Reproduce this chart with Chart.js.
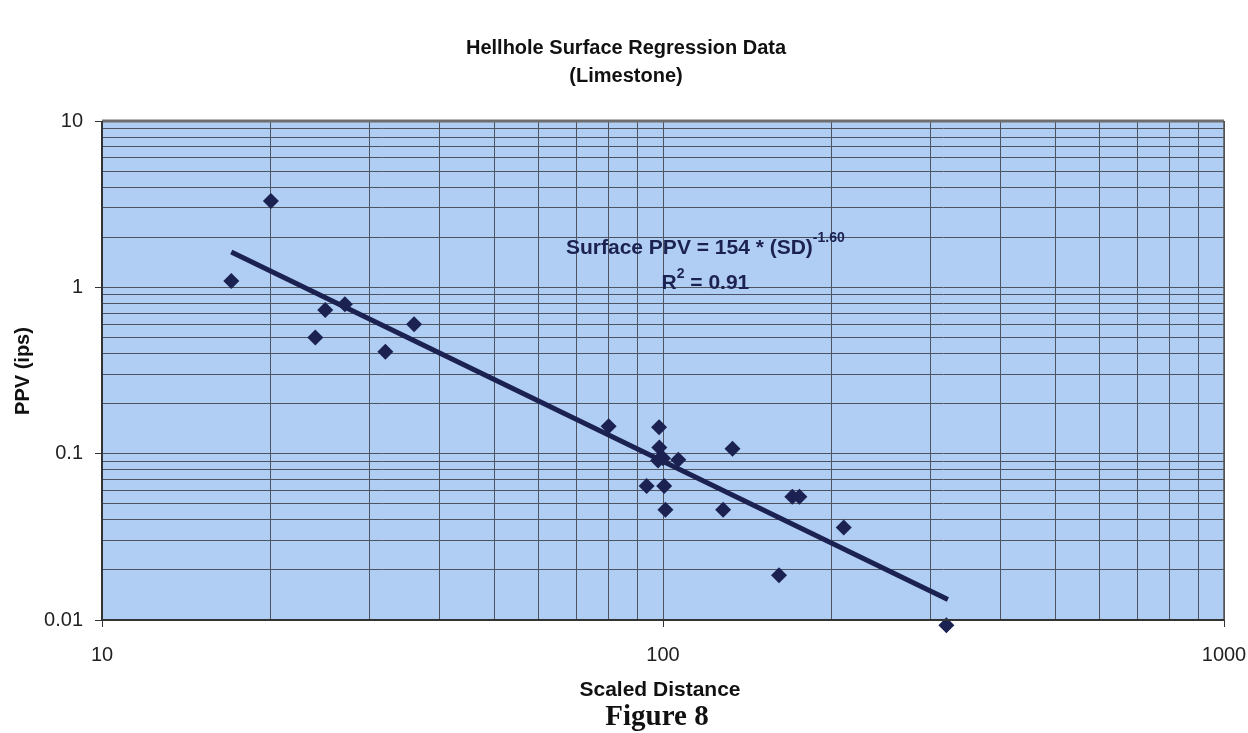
<!DOCTYPE html>
<html>
<head>
<meta charset="utf-8">
<script src="https://cdn.jsdelivr.net/npm/chart.js@4"></script>
<style>
  html, body { margin: 0; padding: 0; background: #fff; }
  #wrap { width: 1248px; height: 733px; }
</style>
</head>
<body>
<div id="wrap"><canvas id="c" width="1248" height="733"></canvas></div>
<script>
// 측정값 (Scaled Distance, PPV)
const SD_VALUES = [17, 20, 25, 27.1, 24, 32, 36, 80, 98.4, 98.5, 98, 100, 106.5, 133, 93.5, 100.5, 101, 128, 170, 175, 210, 161, 320];
const PPV_VALUES = [1.09, 3.3, 0.73, 0.79, 0.5, 0.41, 0.6, 0.146, 0.144, 0.109, 0.091, 0.094, 0.092, 0.107, 0.064, 0.064, 0.046, 0.046, 0.055, 0.055, 0.036, 0.0186, 0.0093];
// 회귀선 양 끝점
const FIT_SD = [17, 322];
const FIT_PPV = [1.63, 0.0133];
// 축 눈금
const X_TICKS = [10, 20, 30, 40, 50, 60, 70, 80, 90, 100, 200, 300, 400, 500, 600, 700, 800, 900, 1000];
const Y_TICKS = [0.01, 0.02, 0.03, 0.04, 0.05, 0.06, 0.07, 0.08, 0.09, 0.1, 0.2, 0.3, 0.4, 0.5, 0.6, 0.7, 0.8, 0.9,
  1, 2, 3, 4, 5, 6, 7, 8, 9, 10];
const X_LABELS = [10, 100, 1000];
const Y_LABELS = [0.01, 0.1, 1, 10];

const NAVY = '#1b2150';
const GRID = '#4d5361';
const SANS = '"Liberation Sans", Arial, sans-serif';
const isMajor = (v, list) => list.some((m) => Math.abs(m - v) / m < 1e-6);

// 배경 + 제목 + 회귀식 텍스트
const decor = {
  id: 'decor',
  beforeDraw(chart) {
    const { ctx, chartArea: a } = chart;
    ctx.save();
    ctx.fillStyle = '#b0cdf3';
    ctx.fillRect(a.left, a.top, a.right - a.left, a.bottom - a.top);
    ctx.restore();
  },
  afterDatasetsDraw(chart) {
    const { ctx, chartArea: a, scales } = chart;
    ctx.save();
    // 테두리
    ctx.strokeStyle = '#6e6e6e';
    ctx.lineWidth = 3;
    ctx.beginPath(); ctx.moveTo(a.left, a.top); ctx.lineTo(a.right, a.top); ctx.stroke();
    ctx.strokeStyle = '#555';
    ctx.lineWidth = 1.5;
    ctx.beginPath(); ctx.moveTo(a.right, a.top); ctx.lineTo(a.right, a.bottom); ctx.stroke();
    ctx.strokeStyle = '#333';
    ctx.lineWidth = 2;
    ctx.beginPath(); ctx.moveTo(a.left, a.top); ctx.lineTo(a.left, a.bottom); ctx.lineTo(a.right, a.bottom); ctx.stroke();

    ctx.fillStyle = '#111';
    ctx.textAlign = 'center';
    ctx.textBaseline = 'middle';
    ctx.font = `bold 20px ${SANS}`;
    ctx.fillText('Hellhole Surface Regression Data', 626, 48);
    ctx.fillText('(Limestone)', 626, 76);
    ctx.font = `bold 21px ${SANS}`;
    ctx.fillText('Scaled Distance', 660, 690);
    ctx.save();
    ctx.translate(23, 371);
    ctx.rotate(-Math.PI / 2);
    ctx.font = `bold 20px ${SANS}`;
    ctx.fillText('PPV (ips)', 0, 0);
    ctx.restore();
    ctx.font = 'bold 29px "Liberation Serif", "Times New Roman", serif';
    ctx.fillText('Figure 8', 657, 718);

    // 회귀식
    const cx = scales.x.getPixelForValue(119);
    const y1 = scales.y.getPixelForValue(1.72);
    const y2 = scales.y.getPixelForValue(1.06);
    ctx.fillStyle = NAVY;
    const main = 'Surface PPV = 154 * (SD)';
    ctx.font = `bold 14px ${SANS}`;
    const supW = ctx.measureText('-1.60').width;
    ctx.font = `bold 21px ${SANS}`;
    const mainW = ctx.measureText(main).width;
    const start = cx - (mainW + supW) / 2;
    ctx.textAlign = 'left';
    ctx.fillText(main, start, y1);
    ctx.font = `bold 14px ${SANS}`;
    ctx.fillText('-1.60', start + mainW, y1 - 10);

    ctx.font = `bold 21px ${SANS}`;
    const rW = ctx.measureText('R').width;
    const restW = ctx.measureText(' = 0.91').width;
    ctx.font = `bold 14px ${SANS}`;
    const twoW = ctx.measureText('2').width;
    const s2 = cx - (rW + twoW + restW) / 2;
    ctx.font = `bold 21px ${SANS}`;
    ctx.fillText('R', s2, y2);
    ctx.fillText(' = 0.91', s2 + rW + twoW, y2);
    ctx.font = `bold 14px ${SANS}`;
    ctx.fillText('2', s2 + rW, y2 - 9);
    ctx.restore();
  },
};

new Chart(document.getElementById('c'), {
  type: 'scatter',
  data: {
    datasets: [
      {
        label: 'Fit',
        data: FIT_SD.map((x, i) => ({ x, y: FIT_PPV[i] })),
        showLine: true,
        borderColor: NAVY,
        borderWidth: 5,
        pointRadius: 0,
        order: 2,
      },
      {
        label: 'Data',
        data: SD_VALUES.map((x, i) => ({ x, y: PPV_VALUES[i] })),
        pointStyle: 'rectRot',
        pointRadius: 8,
        backgroundColor: NAVY,
        borderColor: NAVY,
        borderWidth: 0,
        clip: false,
        order: 1,
      },
    ],
  },
  options: {
    responsive: false,
    animation: false,
    layout: { padding: { top: 121, right: 24, left: 0, bottom: 0 } },
    plugins: { legend: { display: false }, tooltip: { enabled: false }, title: { display: false } },
    scales: {
      x: {
        type: 'logarithmic',
        min: 10,
        max: 1000,
        afterBuildTicks: (s) => { s.ticks = X_TICKS.map((v) => ({ value: v })); },
        afterFit: (s) => { s.height = 113; s.paddingLeft = 0; s.paddingRight = 0; },
        border: { display: false },
        grid: {
          color: GRID,
          lineWidth: 1,
          tickLength: 7,
          tickColor: (c) => (c.tick && isMajor(c.tick.value, X_LABELS) ? '#333' : 'rgba(0,0,0,0)'),
        },
        ticks: {
          autoSkip: false,
          maxRotation: 0,
          padding: 16,
          color: '#222',
          font: { size: 20, family: SANS },
          callback: (v) => (isMajor(v, X_LABELS) ? String(v) : ''),
        },
      },
      y: {
        type: 'logarithmic',
        min: 0.01,
        max: 10,
        afterBuildTicks: (s) => { s.ticks = Y_TICKS.map((v) => ({ value: v })); },
        afterFit: (s) => { s.width = 102; s.paddingTop = 0; s.paddingBottom = 0; },
        border: { display: false },
        grid: {
          color: GRID,
          lineWidth: 1,
          tickLength: 7,
          tickColor: (c) => (c.tick && isMajor(c.tick.value, Y_LABELS) ? '#333' : 'rgba(0,0,0,0)'),
        },
        ticks: {
          autoSkip: false,
          padding: 12,
          color: '#222',
          font: { size: 20, family: SANS },
          callback: (v) => (isMajor(v, Y_LABELS) ? String(v) : ''),
        },
      },
    },
  },
  plugins: [decor],
});
</script>
</body>
</html>
